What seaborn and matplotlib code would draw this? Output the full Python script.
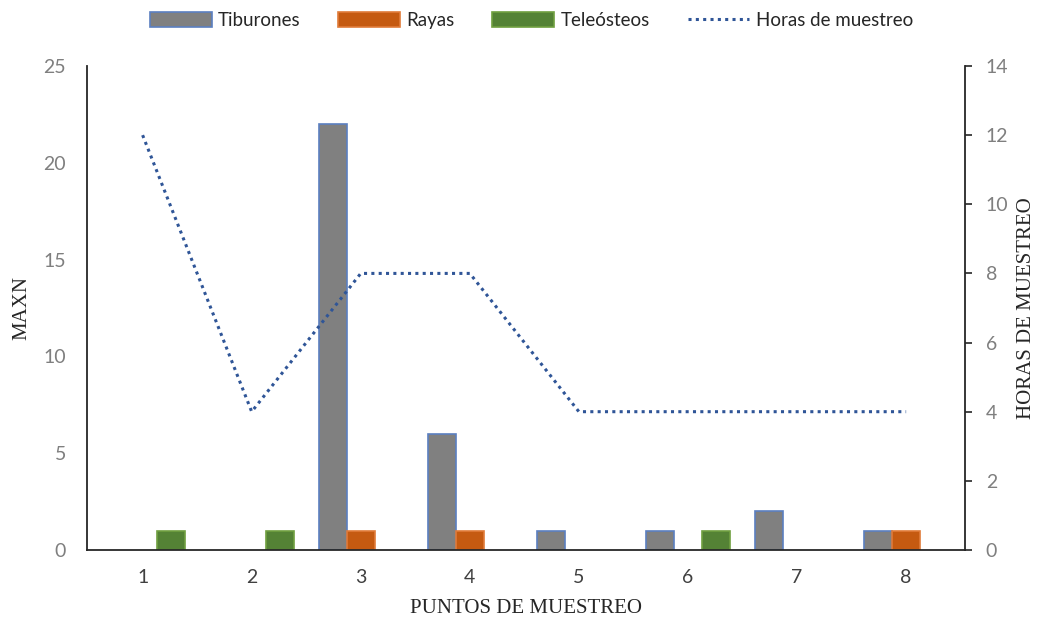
import pandas as pd
import numpy as np
import matplotlib.pyplot as plt
import seaborn as sns
from matplotlib.patches import Patch
from matplotlib.lines import Line2D

# Data
puntos = ['1', '2', '3', '4', '5', '6', '7', '8']
tiburones = [0, 0, 22, 6, 1, 1, 2, 1]
rayas = [0, 0, 1, 1, 0, 0, 0, 1]
teleosteos = [1, 1, 0, 0, 0, 1, 0, 0]
horas = [12, 4, 8, 8, 4, 4, 4, 4]

grupos = ['Tiburones', 'Rayas', 'Teleósteos']
fill = {'Tiburones': '#808080', 'Rayas': '#C55A11', 'Teleósteos': '#548235'}
edge = {'Tiburones': '#5B7FC0', 'Rayas': '#E07B39', 'Teleósteos': '#70A040'}
line_color = '#2F5597'

sns.set_style('white')
plt.rcParams['font.family'] = ['Lato', 'DejaVu Sans']

# long-form table, zero counts dropped so no empty bar edges are drawn
rows = []
for i, p in enumerate(puntos):
    for g, vals in zip(grupos, [tiburones, rayas, teleosteos]):
        if vals[i] > 0:
            rows.append({'Punto': p, 'Grupo': g, 'MAXN': vals[i]})
df = pd.DataFrame(rows)

fig = plt.figure(figsize=(10.38, 6.22), dpi=100)
ax = fig.add_axes([0.0838, 0.1158, 0.8459, 0.7781])

sns.barplot(data=df, x='Punto', y='MAXN', hue='Grupo', order=puntos,
            hue_order=grupos, palette=fill, width=0.77, ax=ax,
            errorbar=None, legend=False, saturation=1)
for cont, g in zip(ax.containers, grupos):
    for bar in cont:
        bar.set_edgecolor(edge[g])
        bar.set_linewidth(1.2)

ax.set_xlim(-0.51, 7.54)
ax.set_ylim(0, 25)
ax.set_yticks(range(0, 26, 5))
ax.tick_params(axis='y', length=0, labelsize=14, labelcolor='#7F7F7F', pad=15)
ax.tick_params(axis='x', length=0, labelsize=14, labelcolor='#404040', pad=14)
# boundary ticks between categories, pointing up
ax.set_xticks(np.arange(0.5, 7.5, 1), minor=True)
ax.tick_params(axis='x', which='minor', direction='in', length=5, width=1.2, color='#404040')

for s in ['top', 'right']:
    ax.spines[s].set_visible(False)
ax.spines['left'].set_color('#262626')
ax.spines['bottom'].set_color('#262626')
ax.spines['left'].set_linewidth(1.3)
ax.spines['bottom'].set_linewidth(1.3)

ax.set_xlabel('PUNTOS DE MUESTREO', family='Liberation Serif', fontsize=15, labelpad=9)
ax.set_ylabel('MAXN', family='Liberation Serif', fontsize=15, labelpad=9)

ax2 = ax.twinx()
sns.lineplot(x=np.arange(len(puntos)), y=horas, ax=ax2, color=line_color,
             linestyle=(0, (1, 1.4)), linewidth=2.2)
ax2.set_ylim(0, 14)
ax2.set_yticks(range(0, 15, 2))
ax2.tick_params(axis='y', direction='out', length=5, width=1.2, color='#262626',
                labelsize=14, labelcolor='#7F7F7F', pad=10)
for s in ['top', 'left', 'bottom']:
    ax2.spines[s].set_visible(False)
ax2.spines['right'].set_color('#262626')
ax2.spines['right'].set_linewidth(1.3)
ax2.set_ylabel('HORAS DE MUESTREO', family='Liberation Serif', fontsize=15, labelpad=6)
ax2.set_xlim(-0.51, 7.54)

handles = [Patch(facecolor=fill[g], edgecolor=edge[g], linewidth=1.2) for g in grupos]
handles.append(Line2D([0], [0], color=line_color, linestyle=(0, (1, 1.4)), linewidth=2.2))
fig.legend(handles, grupos + ['Horas de muestreo'], loc='upper center',
           bbox_to_anchor=(0.512, 1.008), ncol=4, frameon=False, fontsize=13.5,
           handlelength=3.3, handleheight=0.9, columnspacing=2.0, handletextpad=0.35)

fig.savefig('out.png', dpi=100)
